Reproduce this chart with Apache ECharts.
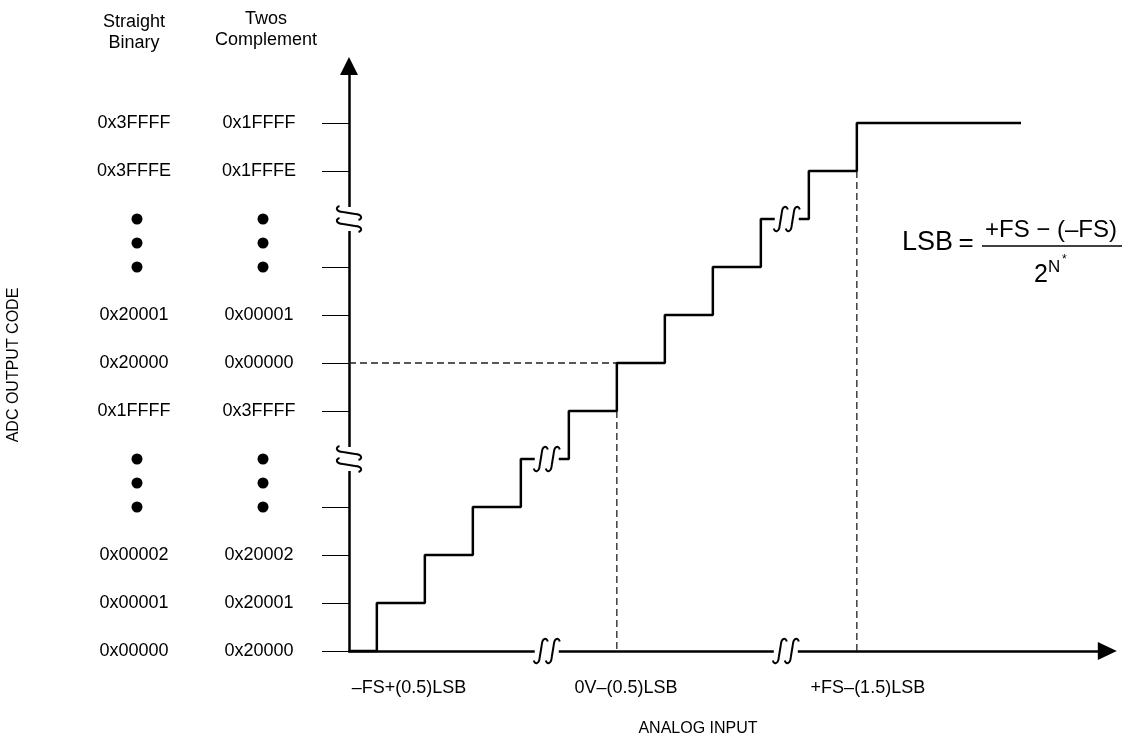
<!DOCTYPE html>
<html><head><meta charset="utf-8">
<script src="https://cdn.jsdelivr.net/npm/echarts@6/dist/echarts.min.js"></script>
<style>html,body{margin:0;padding:0;background:#fff}#c{width:1130px;height:738px}</style>
</head><body><div id="c"></div>
<script>
// ---- data ----
// staircase: analog input (in LSB units from -FS) where each code is reached, and the code level
const stepX = [0, 0.58, 1.58, 2.58, 3.58, 4.58, 5.58, 6.58, 7.58, 8.58, 9.58, 10.58, 14];
const stepLevel = [0, 1, 2, 3, 4, 5, 6, 7, 8, 9, 10, 11, 11];
// y axis code levels
const tickLevels = [0, 1, 2, 3, 5, 6, 7, 8, 10, 11];
const codeLevels = [0, 1, 2, 5, 6, 7, 10, 11];
const straightBinary = ['0x00000', '0x00001', '0x00002', '0x1FFFF', '0x20000', '0x20001', '0x3FFFE', '0x3FFFF'];
const twosComplement = ['0x20000', '0x20001', '0x20002', '0x3FFFF', '0x00000', '0x00001', '0x1FFFE', '0x1FFFF'];
const ellipsisLevels = [3, 3.5, 4, 8, 8.5, 9];
// x axis labels
const xLabelPos = [1.25, 5.77, 10.81];
const xLabelText = ['\u2013FS+(0.5)LSB', '0V\u2013(0.5)LSB', '+FS\u2013(1.5)LSB'];
// breaks: [x, y, orientation(0 = along horizontal line, 1 = along vertical line)]
const breaks = [[4.12, 4, 0], [9.12, 9, 0], [4.12, 0, 0], [9.1, 0, 0], [0, 4, 1], [0, 9, 1]];
// dashed guide lines
const dashMid = [[0, 6], [5.58, 6]];
const dashMidV = [[5.58, 5], [5.58, 0]];
const dashTopV = [[10.58, 10], [10.58, 0]];

const FONT = 'Liberation Sans, Arial, sans-serif';
const chart = echarts.init(document.getElementById('c'), null, {renderer: 'canvas'});

function breakItem(params, api) {
  const c = api.coord([api.value(0), api.value(1)]);
  const vertical = breaks[params.dataIndex][2] === 1;
  // map a local offset to canvas, rotating 90 degrees for breaks on vertical lines
  const P = function (px, py) { return vertical ? [c[0] - py, c[1] + px] : [c[0] + px, c[1] + py]; };
  const st = {fill: 'none', stroke: '#000', lineWidth: 2};
  const children = [];
  const r0 = P(-12, -5), r1 = P(12, 5);
  children.push({type: 'rect', shape: {x: Math.min(r0[0], r1[0]), y: Math.min(r0[1], r1[1]), width: Math.abs(r1[0] - r0[0]), height: Math.abs(r1[1] - r0[1])}, style: {fill: '#fff'}});
  const bez = function (pts) {
    const a = P(pts[0], pts[1]), b = P(pts[2], pts[3]), d = P(pts[4], pts[5]), e = P(pts[6], pts[7]);
    return {type: 'bezierCurve', shape: {x1: a[0], y1: a[1], cpx1: b[0], cpy1: b[1], cpx2: d[0], cpy2: d[1], x2: e[0], y2: e[1]}, style: st};
  };
  [-6, 6].forEach(function (dx) {
    children.push(bez([dx - 7, 9.5, dx - 6, 13.5, dx - 1.5, 13.5, dx - 1, 6]));
    const a = P(dx - 1, 6), b = P(dx + 1, -6);
    children.push({type: 'line', shape: {x1: a[0], y1: a[1], x2: b[0], y2: b[1]}, style: st});
    children.push(bez([dx + 1, -6, dx + 1.5, -13.5, dx + 6, -13.5, dx + 7, -9.5]));
  });
  return {type: 'group', children: children};
}

const dashStyle = {color: '#222', width: 1.3, type: [7, 4]};
const txt = function (x, y, text, size, extra) {
  return Object.assign({type: 'text', x: x, y: y, style: {text: text, fontSize: size, fontFamily: FONT, fill: '#000', textAlign: 'center', textVerticalAlign: 'middle'}}, extra || {});
};

chart.setOption({
  animation: false,
  grid: {left: 349, right: 32.2, top: 75, bottom: 87},
  xAxis: {
    type: 'value', min: 0, max: 15.6,
    axisLine: {show: true, onZero: false, lineStyle: {color: '#000', width: 2.5}, symbol: ['none', 'triangle'], symbolSize: [18, 19], symbolOffset: [0, 9.5]},
    axisTick: {show: false},
    splitLine: {show: false},
    axisLabel: {
      customValues: xLabelPos, margin: 28, fontSize: 18, fontFamily: FONT, color: '#000',
      formatter: function (v) { return xLabelText[xLabelPos.indexOf(v)] || ''; }
    }
  },
  yAxis: {
    type: 'value', min: 0, max: 12, interval: 1,
    axisLine: {show: true, onZero: false, lineStyle: {color: '#000', width: 2.5}, symbol: ['none', 'triangle'], symbolSize: [18, 18], symbolOffset: [0, 9]},
    axisTick: {show: true, customValues: tickLevels, length: 27, lineStyle: {color: '#000', width: 1}},
    splitLine: {show: false},
    axisLabel: {
      customValues: codeLevels.concat(ellipsisLevels), margin: 50, align: 'right', color: '#000',
      formatter: function (v) {
        const i = codeLevels.indexOf(v);
        if (i >= 0) return '{a|' + straightBinary[i] + '}{b|' + twosComplement[i] + '}';
        return '{s1| }{dot| }{s2| }{dot| }{s3| }';
      },
      rich: {
        a: {width: 170, align: 'center', fontSize: 18, fontFamily: FONT, color: '#000'},
        b: {width: 80, align: 'center', fontSize: 18, fontFamily: FONT, color: '#000'},
        s1: {width: 82.5, fontSize: 10},
        s2: {width: 115, fontSize: 10},
        s3: {width: 30.5, fontSize: 10},
        dot: {width: 11, height: 11, borderRadius: 5.5, backgroundColor: '#000', fontSize: 10}
      }
    }
  },
  series: [
    {type: 'line', data: dashMid, symbol: 'none', lineStyle: dashStyle, clip: false, z: 2},
    {type: 'line', data: dashMidV, symbol: 'none', lineStyle: dashStyle, clip: false, z: 2},
    {type: 'line', data: dashTopV, symbol: 'none', lineStyle: dashStyle, clip: false, z: 2},
    {type: 'line', step: 'end', data: stepX.map(function (x, i) { return [x, stepLevel[i]]; }), symbol: 'none', lineStyle: {color: '#000', width: 2.5}, clip: false, z: 3},
    {type: 'custom', data: breaks, renderItem: breakItem, clip: false, z: 5, silent: true}
  ],
  graphic: [
    txt(134, 22, 'Straight', 18), txt(134, 43, 'Binary', 18),
    txt(266, 19, 'Twos', 18), txt(266, 40, 'Complement', 18),
    txt(14, 365, 'ADC OUTPUT CODE', 16, {rotation: Math.PI / 2}),
    txt(698, 729, 'ANALOG INPUT', 16),
    {type: 'text', x: 902, y: 243, style: {text: 'LSB', fontSize: 27, fontFamily: FONT, fill: '#000', textAlign: 'left', textVerticalAlign: 'middle'}},
    txt(966, 244, '=', 26),
    txt(1051, 230, '+FS \u2212 (\u2013FS)', 24),
    {type: 'line', shape: {x1: 982, y1: 246, x2: 1122, y2: 246}, style: {stroke: '#000', lineWidth: 1.5}},
    txt(1041, 275, '2', 25),
    {type: 'text', x: 1048, y: 267, style: {text: 'N', fontSize: 17, fontFamily: FONT, fill: '#000', textAlign: 'left', textVerticalAlign: 'middle'}},
    {type: 'text', x: 1062, y: 260, style: {text: '*', fontSize: 12, fontFamily: FONT, fill: '#000', textAlign: 'left', textVerticalAlign: 'middle'}}
  ]
});
</script>
</body></html>
